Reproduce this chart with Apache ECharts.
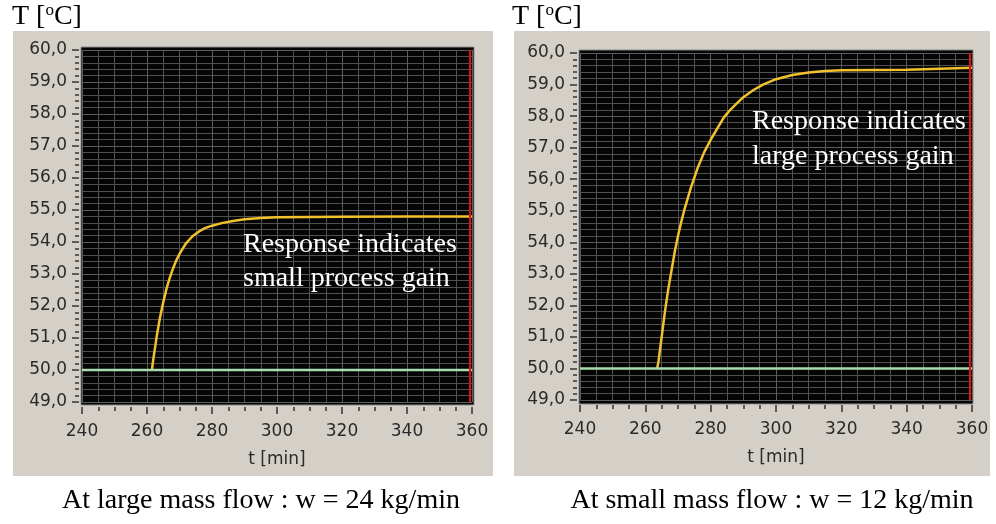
<!DOCTYPE html>
<html>
<head>
<meta charset="utf-8">
<script src="https://cdn.jsdelivr.net/npm/echarts@6/dist/echarts.min.js"></script>
<style>
  html, body { margin: 0; padding: 0; background: #fff; }
  #chart { width: 996px; height: 524px; }
</style>
</head>
<body>
<div id="chart"></div>
<script>
var tLeft = [261.5, 262, 263, 264, 265, 266, 267, 268, 269, 270, 272, 274, 276, 278, 280, 283, 286, 290, 295, 300, 310, 320, 340, 360];
var tempLeft = [50.0, 50.38, 51.06, 51.64, 52.12, 52.54, 52.88, 53.17, 53.42, 53.63, 53.96, 54.18, 54.33, 54.44, 54.51, 54.59, 54.65, 54.71, 54.75, 54.77, 54.78, 54.79, 54.8, 54.8];

var tRight = [263.6, 264, 265, 266, 267, 268, 269, 270, 271, 272, 274, 276, 278, 280, 282, 284, 286, 288, 290, 293, 296, 300, 305, 310, 315, 320, 330, 340, 340.5, 360];
var tempRight = [50.0, 50.2, 51.0, 51.8, 52.5, 53.1, 53.7, 54.2, 54.65, 55.05, 55.75, 56.35, 56.85, 57.25, 57.6, 57.95, 58.2, 58.4, 58.6, 58.82, 59.0, 59.17, 59.3, 59.38, 59.43, 59.45, 59.46, 59.47, 59.53, 59.53];

var tBase = [240, 360];
var tempBase = [50.0, 50.0];
var tNow = 359.4;

var captions = ['At large mass flow : w = 24 kg/min', 'At small mass flow : w = 12 kg/min'];
var notesLeft = ['Response indicates', 'small process gain'];
var notesRight = ['Response indicates', 'large process gain'];

function pairs(xs, ys) {
    var out = [];
    for (var i = 0; i < xs.length; i++) out.push([xs[i], ys[i]]);
    return out;
}

var tickFont = { fontFamily: 'DejaVu Sans', fontSize: 17, color: '#2a2a2a' };
var serif = '"Liberation Serif", "DejaVu Serif", serif';

function xAxisFor(idx) {
    return {
        type: 'value', gridIndex: idx, min: 240, max: 360, interval: 20,
        offset: 5,
        name: 't [min]', nameLocation: 'middle', nameGap: 44,
        nameTextStyle: tickFont,
        axisLine: { show: false },
        axisTick: { show: true, length: 7, lineStyle: { color: '#333', width: 1.5 } },
        minorTick: { show: true, splitNumber: 4, length: 4, lineStyle: { color: '#333', width: 1.5 } },
        axisLabel: Object.assign({ margin: 16 }, tickFont),
        splitLine: { show: true, lineStyle: { color: '#5c5c5c', width: 1 } },
        minorSplitLine: { show: true, lineStyle: { color: '#505050', width: 1 } }
    };
}

function yAxisFor(idx) {
    return {
        type: 'value', gridIndex: idx, min: 49, max: 60, interval: 1,
        offset: 3,
        axisLine: { show: false },
        axisTick: { show: true, length: 7, lineStyle: { color: '#333', width: 1.5 } },
        minorTick: { show: true, splitNumber: 5, length: 4, lineStyle: { color: '#333', width: 1.5 } },
        axisLabel: Object.assign({
            margin: 12,
            formatter: function (v) { return v.toFixed(1).replace('.', ','); }
        }, tickFont),
        splitLine: { show: true, lineStyle: { color: '#5c5c5c', width: 1 } },
        minorSplitLine: { show: true, lineStyle: { color: '#505050', width: 1 } }
    };
}

function trend(idx, xs, ys) {
    return {
        type: 'line', xAxisIndex: idx, yAxisIndex: idx,
        data: pairs(xs, ys), showSymbol: false, silent: true, animation: false,
        lineStyle: { color: '#f2c12e', width: 2.5 },
        markLine: {
            silent: true, symbol: 'none', label: { show: false },
            lineStyle: { color: '#e01010', width: 2, type: 'solid' },
            data: [{ xAxis: tNow }]
        }
    };
}

function base(idx) {
    return {
        type: 'line', xAxisIndex: idx, yAxisIndex: idx,
        data: pairs(tBase, tempBase), showSymbol: false, silent: true, animation: false,
        lineStyle: { color: '#a8dcae', width: 2.5 }
    };
}

function note(x, y, txt) {
    return { type: 'text', x: x, y: y, z: 100,
        style: { text: txt, font: '28px ' + serif, fill: '#fff', textAlign: 'left', textVerticalAlign: 'middle' } };
}

function caption(x, txt) {
    return { type: 'text', x: x, y: 501,
        style: { text: txt, font: '28px ' + serif, fill: '#000', textAlign: 'center', textVerticalAlign: 'middle' } };
}

function unit(x) {
    return { type: 'text', x: x, y: 17,
        style: {
            text: '{a|T [}{s|o}{a|C]}', textVerticalAlign: 'middle',
            rich: {
                a: { fontFamily: serif, fontSize: 28, fill: '#000', color: '#000' },
                s: { fontFamily: serif, fontSize: 17, fill: '#000', color: '#000', padding: [0, 0, 13, 0] }
            }
        } };
}

var chart = echarts.init(document.getElementById('chart'), null, { renderer: 'canvas' });

chart.setOption({
    animation: false,
    backgroundColor: '#fff',
    grid: [
        { left: 82, top: 50, width: 390, height: 352 },
        { left: 580, top: 53, width: 392, height: 347 }
    ],
    xAxis: [xAxisFor(0), xAxisFor(1)],
    yAxis: [yAxisFor(0), yAxisFor(1)],
    graphic: { elements: [
        { type: 'rect', z: -100, shape: { x: 13, y: 31, width: 480, height: 445 }, style: { fill: '#d4d0c8' } },
        { type: 'rect', z: -100, shape: { x: 514, y: 31, width: 476, height: 445 }, style: { fill: '#d4d0c8' } },
        { type: 'rect', z: -99, shape: { x: 81, y: 47, width: 393, height: 358 }, style: { fill: '#050505', stroke: '#8a8a8a', lineWidth: 1 } },
        { type: 'rect', z: -99, shape: { x: 579, y: 50, width: 394, height: 354 }, style: { fill: '#050505', stroke: '#8a8a8a', lineWidth: 1 } },
        note(243, 245, notesLeft[0]),
        note(243, 279, notesLeft[1]),
        note(752, 122, notesRight[0]),
        note(752, 157, notesRight[1]),
        caption(261, captions[0]),
        caption(772, captions[1]),
        unit(12),
        unit(512)
    ] },
    series: [
        trend(0, tLeft, tempLeft), base(0),
        trend(1, tRight, tempRight), base(1)
    ]
});
</script>
</body>
</html>
